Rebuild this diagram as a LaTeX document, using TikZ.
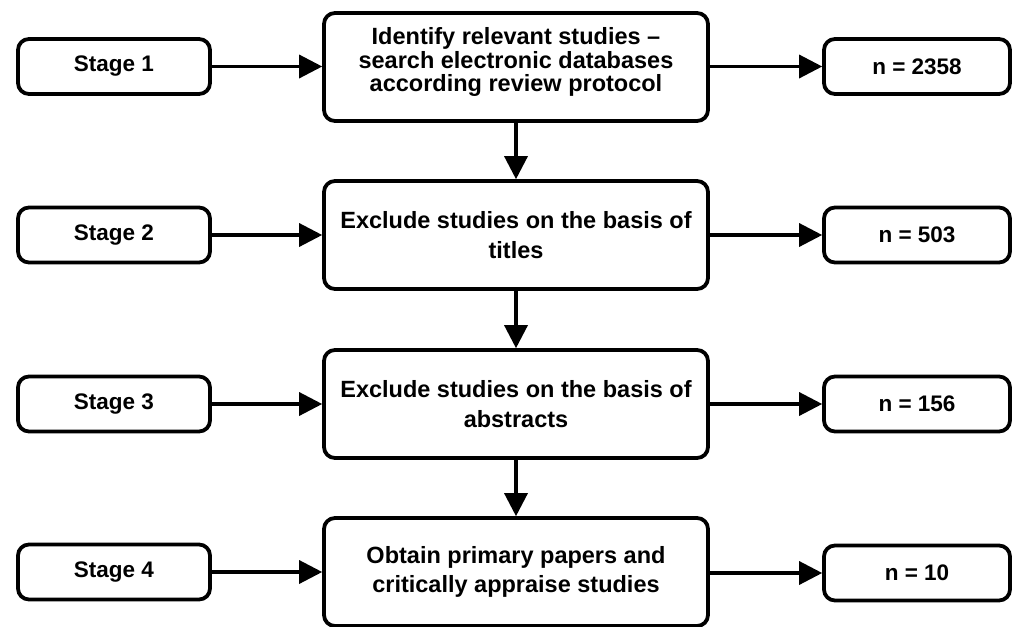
\documentclass[tikz,border=0pt]{standalone}
\usepackage{fontspec}
\setmainfont{Liberation Sans}
\usetikzlibrary{arrows.meta}
\begin{document}
\begin{tikzpicture}[x=1pt, y=-1pt,
  box/.style={draw=black, line width=3.8pt, rounded corners=11pt, fill=white,
    align=center, inner sep=0pt},
  sidebox/.style={box, minimum width=192pt, minimum height=55pt,
    font=\bfseries\fontsize{22.5}{27}\selectfont},
  countbox/.style={sidebox, minimum width=186pt},
  bigbox/.style={box, minimum width=384pt, minimum height=108pt,
    font=\bfseries\fontsize{23.5}{29.5}\selectfont},
  bigtext/.style={align=center, inner sep=0pt,
    font=\bfseries\fontsize{23.5}{23.5}\selectfont},
  flow/.style={line width=3.6pt, -{Triangle[length=23pt,width=24pt,line width=0pt]}}
]
\useasboundingbox (0,0) rectangle (1013,627);

% left column: stage labels
\node[sidebox] (s1) at (114,66.5) {Stage 1};
\node[sidebox] (s2) at (114,235)  {Stage 2};
\node[sidebox] (s3) at (114,404)  {Stage 3};
\node[sidebox] (s4) at (114,572)  {Stage 4};

% middle column: review steps
\node[bigbox] (b1) at (516,67) {};
\node[bigtext] (t1) at ([yshift=5pt]b1.center)
  {Identify relevant studies --\\search electronic databases\\according review protocol};
\node[bigbox] (b2) at (516,235) {Exclude studies on the basis of\\titles};
\node[bigbox] (b3) at (516,404) {Exclude studies on the basis of\\abstracts};
\node[bigbox] (b4) at (516,572) {Obtain primary papers and\\critically appraise studies};

% right column: counts
\node[countbox] (r1) at (917,66.5) {n = 2358};
\node[countbox] (r2) at (917,235)  {n = 503};
\node[countbox] (r3) at (917,404)  {n = 156};
\node[countbox] (r4) at (917,573)  {n = 10};

% stage -> step
\foreach \i in {1,...,4}{
  \draw[flow] (s\i.east) -- (s\i.east -| b\i.west);
  \draw[flow] (b\i.east |- r\i.west) -- (r\i.west);
}
% step -> step
\draw[flow] (b1.south) -- (b2.north);
\draw[flow] (b2.south) -- (b3.north);
\draw[flow] (b3.south) -- (b4.north);
\end{tikzpicture}
\end{document}
